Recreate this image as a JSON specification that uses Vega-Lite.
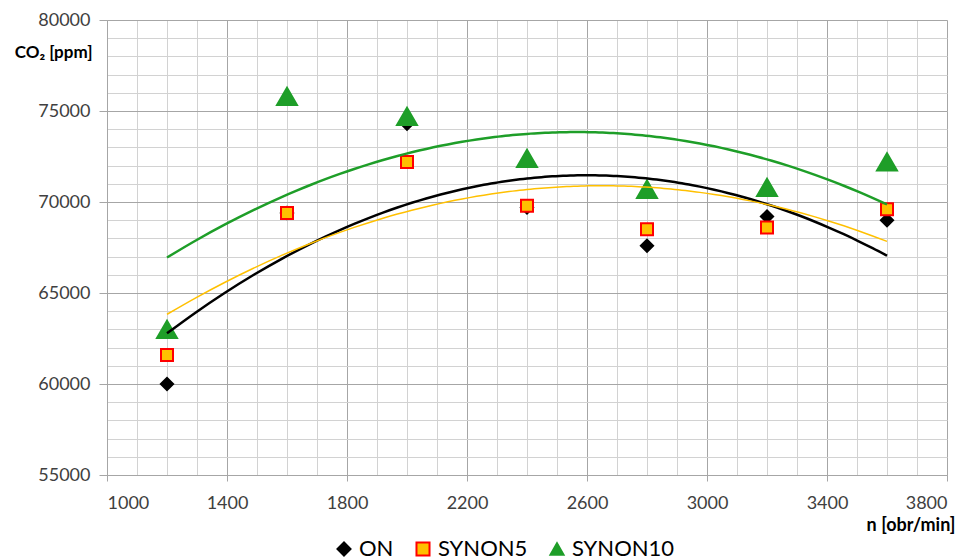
{
  "$schema": "https://vega.github.io/schema/vega-lite/v6.json",
  "width": 840,
  "height": 455,
  "autosize": {"type": "none"},
  "padding": {"left": 107, "top": 20, "right": 22, "bottom": 85},
  "background": "white",
  "config": {
    "font": "Lato",
    "view": {"stroke": null},
    "axis": {"labelFont": "Lato", "titleFont": "Lato"}
  },
  "data": {
    "values": [
      {"n": 1200, "co2": 60000, "series": "ON"},
      {"n": 1600, "co2": 69400, "series": "ON"},
      {"n": 2000, "co2": 74300, "series": "ON"},
      {"n": 2400, "co2": 69700, "series": "ON"},
      {"n": 2800, "co2": 67600, "series": "ON"},
      {"n": 3200, "co2": 69200, "series": "ON"},
      {"n": 3600, "co2": 69000, "series": "ON"},
      {"n": 1200, "co2": 61600, "series": "SYNON5"},
      {"n": 1600, "co2": 69400, "series": "SYNON5"},
      {"n": 2000, "co2": 72200, "series": "SYNON5"},
      {"n": 2400, "co2": 69800, "series": "SYNON5"},
      {"n": 2800, "co2": 68500, "series": "SYNON5"},
      {"n": 3200, "co2": 68600, "series": "SYNON5"},
      {"n": 3600, "co2": 69600, "series": "SYNON5"},
      {"n": 1200, "co2": 63000, "series": "SYNON10"},
      {"n": 1600, "co2": 75800, "series": "SYNON10"},
      {"n": 2000, "co2": 74700, "series": "SYNON10"},
      {"n": 2400, "co2": 72400, "series": "SYNON10"},
      {"n": 2800, "co2": 70700, "series": "SYNON10"},
      {"n": 3200, "co2": 70800, "series": "SYNON10"},
      {"n": 3600, "co2": 72200, "series": "SYNON10"}
    ]
  },
  "layer": [
    {
      "mark": {"type": "point", "filled": true, "strokeWidth": 2, "opacity": 1},
      "encoding": {
        "x": {
          "field": "n", "type": "quantitative",
          "scale": {"domain": [1000, 3800], "nice": false, "zero": false},
          "axis": {
            "orient": "bottom",
            "values": [1000,1100,1200,1300,1400,1500,1600,1700,1800,1900,2000,2100,2200,2300,2400,2500,2600,2700,2800,2900,3000,3100,3200,3300,3400,3500,3600,3700,3800],
            "grid": true, "gridColor": "#d2d2d2", "gridWidth": 1,
            "labels": false, "ticks": false, "domain": false, "title": null
          }
        },
        "y": {
          "field": "co2", "type": "quantitative",
          "scale": {"domain": [55000, 80000], "nice": false, "zero": false},
          "axis": {
            "orient": "left",
            "values": [55000,56000,57000,58000,59000,60000,61000,62000,63000,64000,65000,66000,67000,68000,69000,70000,71000,72000,73000,74000,75000,76000,77000,78000,79000,80000],
            "grid": true, "gridColor": "#d2d2d2", "gridWidth": 1,
            "labels": false, "ticks": false, "domain": false, "title": null
          }
        },
        "shape": {
          "field": "series", "type": "nominal",
          "scale": {"domain": ["ON", "SYNON5", "SYNON10"], "range": ["diamond", "square", "triangle-up"]},
          "legend": {
            "orient": "none", "legendX": 226, "legendY": 518,
            "direction": "horizontal", "title": null,
            "labelFont": "Lato", "labelFontSize": 22, "labelColor": "#000000",
            "symbolSize": 170, "symbolStrokeWidth": 2, "columnPadding": 18, "labelOffset": 4
          }
        },
        "fill": {
          "field": "series", "type": "nominal",
          "scale": {"domain": ["ON", "SYNON5", "SYNON10"], "range": ["#000000", "#FFC000", "#1E9E28"]}
        },
        "stroke": {
          "field": "series", "type": "nominal",
          "scale": {"domain": ["ON", "SYNON5", "SYNON10"], "range": ["#000000", "#FF0000", "#1E9E28"]}
        },
        "size": {
          "condition": [
            {"test": "datum.series === 'SYNON10'", "value": 400},
            {"test": "datum.series === 'ON'", "value": 150}
          ],
          "value": 144
        }
      }
    },
    {
      "transform": [
        {"regression": "co2", "on": "n", "groupby": ["series"], "method": "poly", "order": 2}
      ],
      "mark": {"type": "line", "interpolate": "monotone"},
      "encoding": {
        "x": {
          "field": "n", "type": "quantitative",
          "axis": {
            "orient": "bottom",
            "values": [1000, 1400, 1800, 2200, 2600, 3000, 3400, 3800],
            "grid": true, "gridColor": "#a6a6a6", "gridWidth": 1,
            "domain": true, "domainColor": "#a6a6a6",
            "ticks": true, "tickColor": "#a6a6a6", "tickSize": 6,
            "labelFontSize": 18, "labelColor": "#404040", "labelPadding": 13,
            "format": "d",
            "title": "n [obr/min]", "titleFontSize": 18, "titleFontWeight": "bold", "titleColor": "#000000",
            "titleAlign": "right", "titleBaseline": "middle", "titleX": 848, "titleY": 50, "titleAngle": 0
          }
        },
        "y": {
          "field": "co2", "type": "quantitative",
          "axis": {
            "orient": "left",
            "values": [55000, 60000, 65000, 70000, 75000, 80000],
            "grid": true, "gridColor": "#a6a6a6", "gridWidth": 1,
            "domain": true, "domainColor": "#a6a6a6",
            "ticks": true, "tickColor": "#a6a6a6", "tickSize": 8,
            "labelFontSize": 18, "labelColor": "#404040", "labelPadding": 9,
            "format": "d",
            "title": "CO₂ [ppm]", "titleFontSize": 17, "titleFontWeight": "bold", "titleColor": "#000000",
            "titleAlign": "right", "titleBaseline": "middle", "titleX": -15, "titleY": 32, "titleAngle": 0
          }
        },
        "color": {
          "field": "series", "type": "nominal",
          "scale": {"domain": ["ON", "SYNON5", "SYNON10"], "range": ["#000000", "#FFC000", "#1E9E28"]},
          "legend": null
        },
        "strokeWidth": {
          "condition": {"test": "datum.series === 'SYNON5'", "value": 1.5},
          "value": 2.5
        }
      }
    }
  ],
  "resolve": {"axis": {"x": "independent", "y": "independent"}}
}
